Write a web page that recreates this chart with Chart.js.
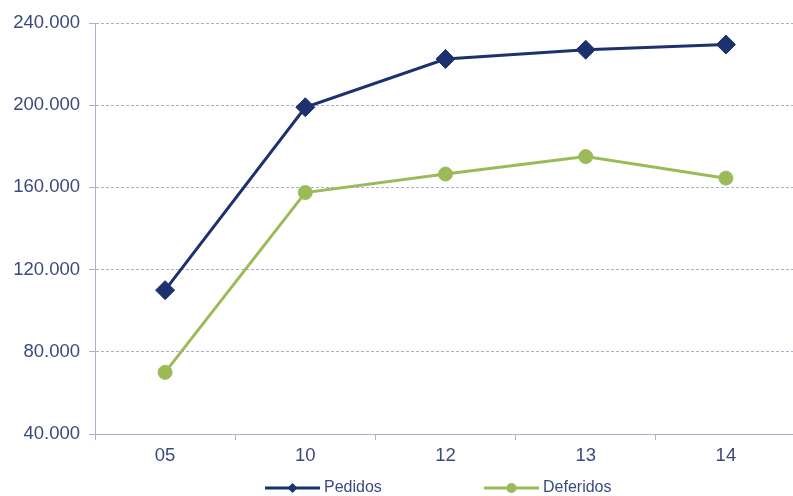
<!DOCTYPE html>
<html>
<head>
<meta charset="utf-8">
<script src="https://cdn.jsdelivr.net/npm/chart.js@4.4.0/dist/chart.umd.min.js"></script>
<style>
  html, body { margin: 0; padding: 0; background: #fff; overflow: hidden; }
  /* the plot runs a few pixels past the right edge in the original */
  #wrap { width: 793px; height: 496px; overflow: hidden; }
</style>
</head>
<body>
<div id="wrap"><canvas id="chart" width="796" height="496"></canvas></div>
<script>
// data
const categories = ["05", "10", "12", "13", "14"];
const pedidos = [110000, 199000, 222500, 227000, 229500];
const deferidos = [70000, 157500, 166500, 175000, 164500];
const yTicks = [40000, 80000, 120000, 160000, 200000, 240000];

const navy = "#1d316e";
const green = "#9bbb59";
const axisColor = "#aab1cf";
const textColor = "#3b4a7d";
const fontFamily = "Liberation Sans, Arial, sans-serif";

// thousands with a dot, like 240.000
function fmt(v) {
  return Math.round(v / 1000) + ".000";
}

// legend drawn by hand: line with a marker, then the name
const legendPlugin = {
  id: "lineLegend",
  afterDraw(chart) {
    const g = chart.ctx;
    const y = 488;
    const items = [
      { ds: 0, x: 265, shape: "diamond" },
      { ds: 1, x: 484, shape: "circle" }
    ];
    g.save();
    items.forEach(it => {
      const ds = chart.data.datasets[it.ds];
      g.strokeStyle = ds.borderColor;
      g.fillStyle = ds.borderColor;
      g.lineWidth = 3;
      g.beginPath();
      g.moveTo(it.x, y);
      g.lineTo(it.x + 55, y);
      g.stroke();
      const cx = it.x + 27.5;
      g.beginPath();
      if (it.shape === "diamond") {
        g.moveTo(cx, y - 5); g.lineTo(cx + 5, y); g.lineTo(cx, y + 5); g.lineTo(cx - 5, y);
        g.closePath();
      } else {
        g.arc(cx, y, 5, 0, Math.PI * 2);
      }
      g.fill();
      g.fillStyle = textColor;
      g.font = "16px " + fontFamily;
      g.textAlign = "left";
      g.textBaseline = "middle";
      g.fillText(ds.label, it.x + 59, y);
    });
    g.restore();
  }
};

const ctx = document.getElementById("chart").getContext("2d");
new Chart(ctx, {
  type: "line",
  data: {
    labels: categories,
    datasets: [
      {
        label: "Pedidos",
        data: pedidos,
        borderColor: navy,
        backgroundColor: navy,
        borderWidth: 3,
        pointStyle: "rectRot",
        pointRadius: 9.5,
        pointBorderWidth: 1,
        tension: 0
      },
      {
        label: "Deferidos",
        data: deferidos,
        borderColor: green,
        backgroundColor: green,
        borderWidth: 3,
        pointStyle: "circle",
        pointRadius: 7,
        pointBorderWidth: 1,
        tension: 0
      }
    ]
  },
  options: {
    responsive: false,
    animation: false,
    layout: {
      autoPadding: false,
      padding: { left: 0, right: 0, top: 23, bottom: 30 }
    },
    scales: {
      x: {
        offset: true,
        grid: {
          offset: true,
          drawOnChartArea: false,
          color: axisColor,
          tickLength: 6
        },
        border: { color: axisColor, width: 1 },
        ticks: {
          color: textColor,
          font: { family: fontFamily, size: 18.5 },
          padding: 5
        },
        afterFit: s => {
          s.height = 32;
          s.paddingLeft = 0;
          s.paddingRight = 0;
        }
      },
      y: {
        min: 40000,
        max: 240000,
        afterBuildTicks: s => { s.ticks = yTicks.map(v => ({ value: v })); },
        grid: {
          color: axisColor,
          tickLength: 6
        },
        border: { color: axisColor, width: 1, dash: [3, 2] },
        ticks: {
          color: textColor,
          font: { family: fontFamily, size: 18.5 },
          padding: 9,
          callback: v => fmt(v)
        },
        afterFit: s => { s.width = 95; }
      }
    },
    plugins: {
      legend: { display: false },
      tooltip: { enabled: false }
    }
  },
  plugins: [legendPlugin]
});
</script>
</body>
</html>
